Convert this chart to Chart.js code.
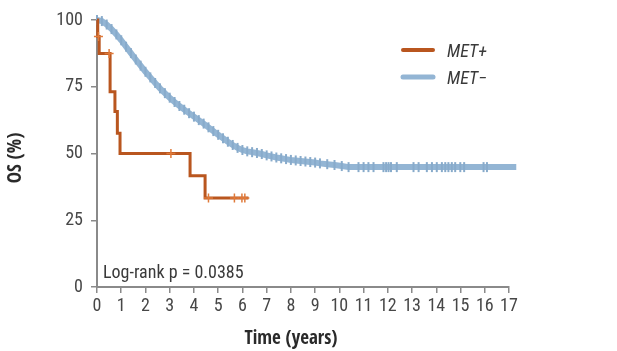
<!DOCTYPE html>
<html>
<head>
<meta charset="utf-8">
<script src="https://cdn.jsdelivr.net/npm/chart.js@4/dist/chart.umd.min.js"></script>
<style>
html,body{margin:0;padding:0;background:#fff;}
#wrap{width:617px;height:351px;position:relative;}
</style>
</head>
<body>
<div id="wrap"><canvas id="c" width="617" height="351"></canvas></div>
<script>
// ---- data ----
const seriesNames = ['MET+', 'MET\u2212'];
const xTicks = [0,1,2,3,4,5,6,7,8,9,10,11,12,13,14,15,16,17];
const yTicks = [0,25,50,75,100];

// MET+ : Kaplan-Meier steps (time in years, survival %), 1 = censored mark
const metPosTime   = [0, 0.03, 0.06, 0.09, 0.5, 0.54, 0.74, 0.84, 0.95, 3.05, 3.84, 4.46, 4.6, 5.67, 5.98, 6.1, 6.25];
const metPosSurv   = [100, 93.8, 93.8, 87.5, 87.5, 73.1, 65.7, 57.6, 50, 50, 41.7, 33.3, 33.3, 33.3, 33.3, 33.3, 33.3];
const metPosCensor = [0, 0, 1, 0, 1, 0, 0, 0, 0, 1, 0, 0, 1, 1, 1, 1, 0];

// MET- : survival curve points (each drawn with a censor tick)
const metNegTime = [0, 0.2, 0.4, 0.6, 0.8, 1.0, 1.2, 1.4, 1.6, 1.8, 2.0, 2.2, 2.4, 2.6, 2.8, 3.0, 3.2, 3.4, 3.6, 3.8,
  4.0, 4.2, 4.4, 4.6, 4.8, 5.0, 5.2, 5.4, 5.6, 5.8, 6.0, 6.2, 6.4, 6.6, 6.8, 7.0, 7.2, 7.4, 7.6, 7.8,
  8.0, 8.2, 8.4, 8.6, 8.8, 9.0, 9.2, 9.5, 9.8, 10.1, 10.38, 10.79, 11.0, 11.2, 11.41, 11.82, 11.93, 12.03, 12.13, 12.37,
  13.06, 13.27, 13.61, 13.82, 14.02, 14.23, 14.37, 14.5, 14.64, 14.78, 14.99, 15.15, 15.95, 16.09, 17.3];
const metNegSurv = [100, 99.6, 98.3, 96.6, 94.6, 92.4, 90.0, 87.6, 85.2, 82.9, 80.6, 78.5, 76.4, 74.4, 72.6, 70.9, 69.3, 67.8, 66.4, 65.1,
  63.8, 62.5, 61.2, 59.8, 58.4, 57.0, 55.7, 54.4, 53.2, 52.1, 51.3, 50.8, 50.5, 50.2, 49.8, 49.3, 48.9, 48.5, 48.2, 47.9,
  47.6, 47.4, 47.2, 47.0, 46.8, 46.6, 46.3, 46.0, 45.7, 45.3, 44.9, 44.9, 44.9, 44.9, 44.9, 44.9, 44.9, 44.9, 44.9, 44.9,
  44.9, 44.9, 44.9, 44.9, 44.9, 44.9, 44.9, 44.9, 44.9, 44.9, 44.9, 44.9, 44.9, 44.9, 44.9];

const annotationText = 'Log-rank p = 0.0385';
const xTitle = 'Time (years)';
const yTitle = 'OS (%)';

// ---- styles ----
const orange = '#b9561f';
const blue = '#93b5d4';
const blueMark = '#88abcb';
const axisGrey = '#8a8a8a';
const textGrey = '#474747';
const cond = '"Roboto Condensed", "Liberation Sans Narrow", sans-serif';
const condBold = '"Open Sans Condensed", "Roboto Condensed", sans-serif';

const toXY = (xs, ys) => xs.map((x, i) => ({x: x, y: ys[i]}));

const overlay = {
  id: 'overlay',
  afterDraw(chart) {
    const ctx = chart.ctx;
    ctx.save();
    // legend
    const items = [{label: seriesNames[0], color: orange, w: 4}, {label: seriesNames[1], color: blue, w: 5}];
    items.forEach((it, i) => {
      const y = 50 + i * 27;
      ctx.strokeStyle = it.color;
      ctx.lineWidth = it.w;
      ctx.lineCap = 'round';
      ctx.beginPath(); ctx.moveTo(403, y); ctx.lineTo(433, y); ctx.stroke();
      ctx.fillStyle = '#3a3a3a';
      ctx.font = 'italic 18px ' + cond;
      ctx.textBaseline = 'middle';
      ctx.textAlign = 'left';
      ctx.fillText(it.label, 447, y + 2);
    });
    // annotation
    ctx.fillStyle = '#3a3a3a';
    ctx.font = '18px ' + cond;
    ctx.textBaseline = 'alphabetic';
    ctx.textAlign = 'left';
    ctx.fillText(annotationText, 103, 278);
    // x title
    ctx.font = 'bold 19px ' + condBold;
    ctx.fillStyle = '#2a2a2a';
    ctx.textAlign = 'center';
    ctx.textBaseline = 'middle';
    ctx.fillText(xTitle, 291, 339);
    // y title
    ctx.translate(16, 158);
    ctx.rotate(-Math.PI / 2);
    ctx.fillText(yTitle, 0, 0);
    ctx.restore();
  }
};

new Chart(document.getElementById('c'), {
  type: 'line',
  data: {
    datasets: [
      {
        label: seriesNames[0],
        data: toXY(metPosTime, metPosSurv),
        borderColor: orange,
        backgroundColor: orange,
        borderWidth: 3,
        stepped: 'before',
        pointStyle: 'cross',
        pointRadius: metPosCensor.map(c => c ? 4.5 : 0),
        pointBorderWidth: 1.5,
        pointBorderColor: '#e07a3a',
        clip: false
      },
      {
        label: seriesNames[1],
        data: toXY(metNegTime, metNegSurv),
        borderColor: blue,
        backgroundColor: blue,
        borderWidth: 6,
        tension: 0,
        pointStyle: 'line',
        rotation: 90,
        pointRadius: 5,
        pointBorderWidth: 2,
        pointBorderColor: blueMark,
        clip: false
      }
    ]
  },
  options: {
    responsive: false,
    animation: false,
    layout: {padding: {left: 0, right: 108, top: 20, bottom: 0}},
    plugins: {legend: {display: false}, tooltip: {enabled: false}},
    scales: {
      x: {
        type: 'linear',
        min: 0, max: 17,
        afterFit(s) { s.height = 64; },
        afterBuildTicks(s) { s.ticks = xTicks.map(v => ({value: v})); },
        grid: {display: true, drawOnChartArea: false, drawTicks: true, tickLength: 6, color: axisGrey, lineWidth: 1.5},
        border: {display: true, color: axisGrey, width: 2},
        ticks: {color: textGrey, font: {family: cond, size: 18}, padding: 3, maxRotation: 0, autoSkip: false}
      },
      y: {
        type: 'linear',
        min: 0, max: 100,
        afterFit(s) { s.width = 97; },
        afterBuildTicks(s) { s.ticks = yTicks.map(v => ({value: v})); },
        grid: {display: true, drawOnChartArea: false, drawTicks: true, tickLength: 6, color: axisGrey, lineWidth: 1.5},
        border: {display: true, color: axisGrey, width: 2},
        ticks: {color: textGrey, font: {family: cond, size: 18}, padding: 8}
      }
    }
  },
  plugins: [overlay]
});
</script>
</body>
</html>
